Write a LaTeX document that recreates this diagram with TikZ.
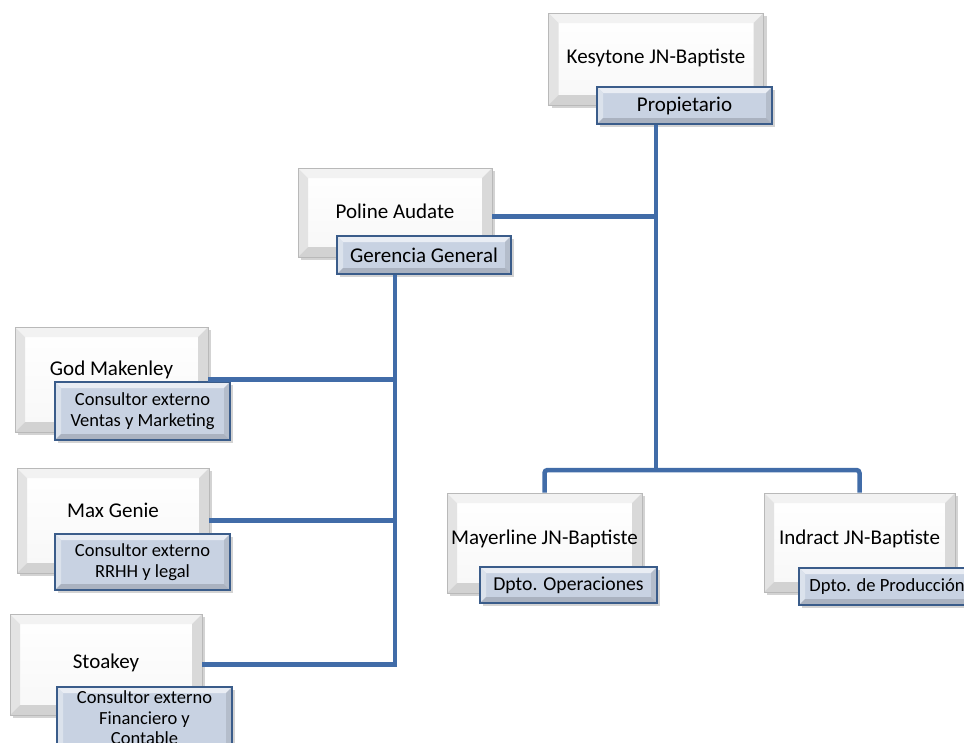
\documentclass[tikz,border=0pt]{standalone}
\usepackage{fontspec}
\setmainfont{Carlito}
\usetikzlibrary{shadows}
\definecolor{linkblue}{RGB}{65,108,168}
\definecolor{subfill}{RGB}{200,210,226}
\definecolor{subedge}{RGB}{58,92,138}
\tikzset{
  bevel/.style n args={5}{path picture={
    \fill[#2] (path picture bounding box.north west) -- (path picture bounding box.north east)
      -- ([shift={(-#1,-#1)}]path picture bounding box.north east) -- ([shift={(#1,-#1)}]path picture bounding box.north west) -- cycle;
    \fill[#3] (path picture bounding box.north west) -- ([shift={(#1,-#1)}]path picture bounding box.north west)
      -- ([shift={(#1,#1)}]path picture bounding box.south west) -- (path picture bounding box.south west) -- cycle;
    \fill[#4] (path picture bounding box.north east) -- ([shift={(-#1,-#1)}]path picture bounding box.north east)
      -- ([shift={(-#1,#1)}]path picture bounding box.south east) -- (path picture bounding box.south east) -- cycle;
    \fill[#5] (path picture bounding box.south west) -- ([shift={(#1,#1)}]path picture bounding box.south west)
      -- ([shift={(-#1,#1)}]path picture bounding box.south east) -- (path picture bounding box.south east) -- cycle;
  }},
  namebox/.style={draw=gray!55, line width=0.8pt, top color=white, bottom color=gray!6,
    bevel={10pt}{gray!10}{gray!22}{gray!30}{gray!35},
    drop shadow={shadow xshift=3pt, shadow yshift=-3pt, opacity=0.35},
    font=\fontsize{21}{24}\selectfont, text height=15pt, text depth=11pt},
  subbox/.style={draw=subedge, line width=1.5pt, fill=subfill,
    bevel={6pt}{subfill!40!white}{subfill!65!white}{subfill!90!black}{subfill!85!black},
    drop shadow={shadow xshift=3pt, shadow yshift=-3pt, opacity=0.35},
    align=center, inner sep=1pt, font=\fontsize{21}{24}\selectfont},
  consult/.style={subbox, font=\fontsize{18.5}{20.5}\selectfont},
  link/.style={draw=linkblue, line width=4.5pt}
}
\begin{document}
\begin{tikzpicture}[x=1pt,y=-1pt]
  \useasboundingbox (0,0) rectangle (964,742);
  \clip (0,0) rectangle (964,742);

  \node[namebox, minimum width=215pt, minimum height=92pt, text depth=7pt] (kesytone) at (656,59) {Kesytone JN-Baptiste};
  \node[subbox, minimum width=175pt, minimum height=37pt] (prop) at (684.5,105.5) {Propietario};

  \node[namebox, minimum width=194pt, minimum height=89pt, text depth=4pt] (poline) at (395,212.5) {Poline Audate};
  \node[subbox, minimum width=174pt, minimum height=38pt] (gerencia) at (424,255) {Gerencia General};

  \node[namebox, minimum width=193pt, minimum height=105pt, text depth=23pt] (god) at (111.5,379.5) {God Makenley};
  \node[consult, minimum width=175pt, minimum height=58pt] (godsub) at (142.5,411) {Consultor externo\\Ventas y Marketing};

  \node[namebox, minimum width=192pt, minimum height=105pt, text depth=21pt] (max) at (113,520.5) {Max Genie};
  \node[consult, minimum width=175pt, minimum height=56pt] (maxsub) at (142.5,562) {Consultor externo\\RRHH y legal};

  \node[namebox, minimum width=192pt, minimum height=101pt, text depth=7pt] (stoakey) at (106,664.5) {Stoakey};
  \node[consult, minimum width=175pt, minimum height=62pt, inner sep=0pt] (stoakeysub) at (144.5,718) {Consultor externo\\Financiero y\\Contable};

  \node[namebox, minimum width=195pt, minimum height=100pt, text depth=12pt] (mayer) at (544.5,543) {Mayerline JN-Baptiste};
  \node[subbox, minimum width=177pt, minimum height=36pt, font=\fontsize{19.7}{22}\selectfont] (mayersub) at (568.5,585) {Dpto. Operaciones};

  \node[namebox, minimum width=191pt, minimum height=99pt] (indract) at (859.5,542.5) {Indract JN-Baptiste};
  \node[subbox, minimum width=176pt, minimum height=37pt, font=\fontsize{18.6}{21}\selectfont] (indractsub) at (887,586.5) {Dpto. de Producción};

  \coordinate (bus) at (kesytone.south |- 0,470);
  \draw[link] (prop.south -| kesytone.south) -- (bus);
  \draw[link, rounded corners=3pt] (mayer.north) |- (bus) -| (indract.north);
  \draw[link] ([yshift=-4pt]poline.east) -- ([yshift=-4pt]poline.east -| bus);

  \draw[link] (gerencia.south -| poline.south) |- (stoakey.east);
  \draw[link] (god.east) -- (god.east -| poline.south);
  \draw[link] (max.east) -- (max.east -| poline.south);
\end{tikzpicture}
\end{document}
